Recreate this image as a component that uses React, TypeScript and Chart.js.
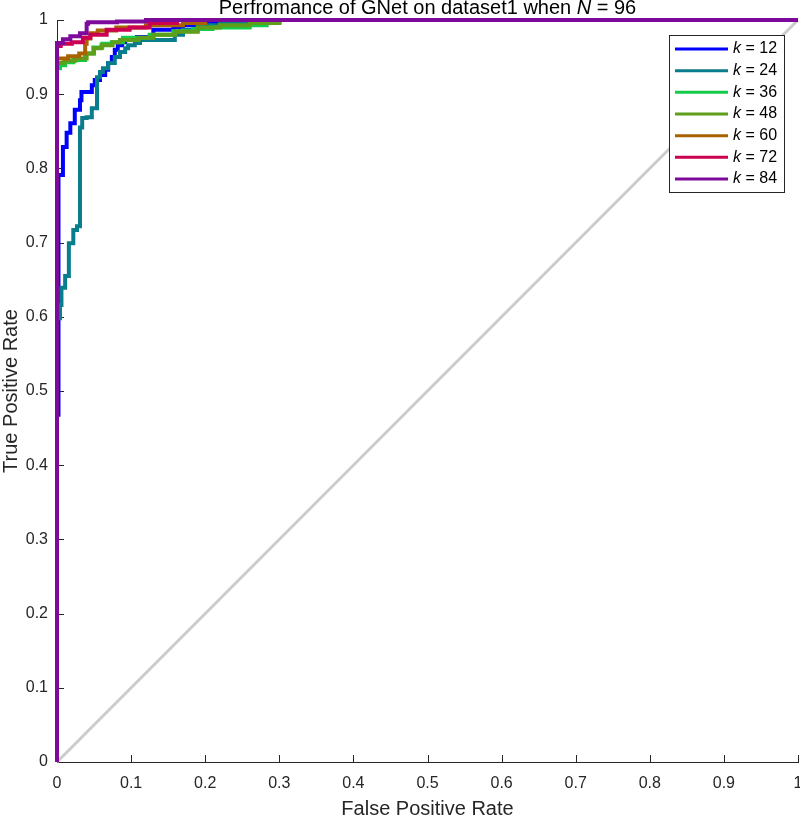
import React, { useEffect, useRef } from 'react';
import { Chart, registerables } from 'chart.js';

Chart.register(...registerables);

const FONT = '"Liberation Sans", Arial, Helvetica, sans-serif';
const INK = '#262626';

// ---- data ----
const seriesLabels = ['12', '24', '36', '48', '60', '72', '84'];
const seriesColors = ['#0000ff', '#0a7d8c', '#14cc4a', '#5e9e1a', '#a86200', '#cc0050', '#7d0a9a'];

const fpr12 = [0, 0, 0.002, 0.008, 0.013, 0.018, 0.024, 0.031, 0.033, 0.047, 0.051, 0.058, 0.065, 0.069, 0.074, 0.078, 0.082, 0.088, 0.092, 0.108, 0.13, 0.157, 0.17, 0.2, 0.25, 0.3, 0.524, 1];
const tpr12 = [0, 0.42, 0.468, 0.791, 0.829, 0.848, 0.861, 0.879, 0.892, 0.903, 0.912, 0.919, 0.926, 0.933, 0.942, 0.95, 0.96, 0.966, 0.97, 0.973, 0.977, 0.987, 0.99, 0.993, 0.995, 0.997, 1, 1];

const fpr24 = [0, 0, 0.004, 0.006, 0.011, 0.016, 0.022, 0.027, 0.031, 0.034, 0.04, 0.047, 0.054, 0.058, 0.062, 0.069, 0.078, 0.085, 0.092, 0.096, 0.105, 0.112, 0.159, 0.17, 0.19, 0.22, 0.26, 0.3, 1];
const tpr24 = [0, 0.5, 0.598, 0.616, 0.639, 0.655, 0.699, 0.717, 0.722, 0.855, 0.868, 0.869, 0.881, 0.923, 0.93, 0.935, 0.942, 0.95, 0.957, 0.962, 0.966, 0.969, 0.973, 0.98, 0.987, 0.993, 0.997, 1, 1];

const fpr36 = [0, 0, 0.004, 0.011, 0.022, 0.038, 0.049, 0.061, 0.074, 0.089, 0.125, 0.157, 0.184, 0.21, 0.26, 0.283, 0.3, 0.405, 1];
const tpr36 = [0, 0.929, 0.935, 0.939, 0.943, 0.946, 0.955, 0.963, 0.968, 0.97, 0.976, 0.98, 0.985, 0.988, 0.99, 0.993, 0.997, 1, 1];

const fpr48 = [0, 0, 0.01, 0.025, 0.04, 0.05, 0.06, 0.075, 0.085, 0.11, 0.13, 0.16, 0.19, 0.22, 0.26, 0.3, 0.33, 1];
const tpr48 = [0, 0.938, 0.942, 0.945, 0.948, 0.955, 0.962, 0.966, 0.97, 0.973, 0.976, 0.98, 0.984, 0.99, 0.993, 0.996, 1, 1];

const fpr60 = [0, 0, 0.015, 0.03, 0.038, 0.04, 0.045, 0.055, 0.08, 0.12, 0.17, 0.2, 0.23, 1];
const tpr60 = [0, 0.946, 0.948, 0.951, 0.955, 0.968, 0.975, 0.982, 0.986, 0.99, 0.993, 0.996, 1, 1];

const fpr72 = [0, 0, 0.005, 0.02, 0.035, 0.045, 0.067, 0.098, 0.125, 0.162, 0.2, 1];
const tpr72 = [0, 0.962, 0.965, 0.968, 0.97, 0.976, 0.98, 0.987, 0.99, 0.996, 1, 1];

const fpr84 = [0, 0, 0.008, 0.018, 0.031, 0.04, 0.042, 0.081, 0.12, 0.16, 1];
const tpr84 = [0, 0.957, 0.969, 0.974, 0.978, 0.982, 0.995, 0.997, 0.998, 1, 1];

const chanceX = [0, 1];
const chanceY = [0, 1];

const xTickValues = [0, 0.1, 0.2, 0.3, 0.4, 0.5, 0.6, 0.7, 0.8, 0.9, 1];
const yTickValues = [0, 0.1, 0.2, 0.3, 0.4, 0.5, 0.6, 0.7, 0.8, 0.9, 1];

const seriesX = [fpr12, fpr24, fpr36, fpr48, fpr60, fpr72, fpr84];
const seriesY = [tpr12, tpr24, tpr36, tpr48, tpr60, tpr72, tpr84];

const titleParts = [
  { text: 'Perfromance of GNet on dataset1 when ', italic: false },
  { text: 'N', italic: true },
  { text: ' = 96', italic: false },
];
const xTitle = 'False Positive Rate';
const yTitle = 'True Positive Rate';

const fmt = (v: number | string) => {
  const n = Number(v);
  return n.toFixed(1).replace(/\.0$/, '');
};

const decorPlugin = {
  id: 'decor',
  beforeDatasetsDraw(chart: any) {
    const { ctx, chartArea, scales } = chart;
    ctx.save();
    ctx.strokeStyle = INK;
    ctx.lineWidth = 1;
    ctx.beginPath();
    xTickValues.forEach((v) => {
      const px = Math.round(scales.x.getPixelForValue(v)) + 0.5;
      ctx.moveTo(px, chartArea.bottom);
      ctx.lineTo(px, chartArea.bottom - 7);
    });
    yTickValues.forEach((v) => {
      const py = Math.round(scales.y.getPixelForValue(v)) + 0.5;
      ctx.moveTo(chartArea.left, py);
      ctx.lineTo(chartArea.left + 7, py);
    });
    ctx.stroke();
    ctx.restore();
  },
  afterDatasetsDraw(chart: any) {
    const { ctx, chartArea } = chart;
    ctx.save();
    // legend
    const bx = chartArea.right - 129;
    const by = chartArea.top + 15;
    const bw = 115;
    const bh = 157;
    ctx.fillStyle = '#ffffff';
    ctx.fillRect(bx, by, bw, bh);
    ctx.strokeStyle = INK;
    ctx.lineWidth = 1;
    ctx.strokeRect(bx + 0.5, by + 0.5, bw, bh);
    ctx.textBaseline = 'middle';
    seriesLabels.forEach((lab, i) => {
      const y = by + 14 + i * 21.67;
      ctx.strokeStyle = seriesColors[i];
      ctx.lineWidth = 3;
      ctx.beginPath();
      ctx.moveTo(bx + 6, y);
      ctx.lineTo(bx + 59, y);
      ctx.stroke();
      ctx.fillStyle = '#000000';
      ctx.font = `italic 16px ${FONT}`;
      const tx = bx + 64;
      ctx.fillText('k', tx, y);
      const kw = ctx.measureText('k').width;
      ctx.font = `16px ${FONT}`;
      ctx.fillText(' = ' + lab, tx + kw, y);
    });
    // title
    ctx.fillStyle = '#000000';
    ctx.textBaseline = 'alphabetic';
    ctx.textAlign = 'left';
    let total = 0;
    const widths = titleParts.map((p) => {
      ctx.font = `${p.italic ? 'italic ' : ''}20px ${FONT}`;
      const w = ctx.measureText(p.text).width;
      total += w;
      return w;
    });
    let cx = (chartArea.left + chartArea.right) / 2 - total / 2;
    titleParts.forEach((p, i) => {
      ctx.font = `${p.italic ? 'italic ' : ''}20px ${FONT}`;
      ctx.fillText(p.text, cx, 14);
      cx += widths[i];
    });
    // axis titles
    ctx.fillStyle = INK;
    ctx.font = `20px ${FONT}`;
    ctx.textAlign = 'center';
    ctx.fillText(xTitle, (chartArea.left + chartArea.right) / 2, 815);
    ctx.translate(17, (chartArea.top + chartArea.bottom) / 2);
    ctx.rotate(-Math.PI / 2);
    ctx.fillText(yTitle, 0, 0);
    ctx.restore();
  },
};

export default function App() {
  const ref = useRef<HTMLCanvasElement>(null);
  useEffect(() => {
    document.body.style.margin = '0';
    const datasets: any[] = seriesLabels.map((lab, i) => ({
      label: 'k = ' + lab,
      data: seriesX[i].map((x, j) => ({ x, y: seriesY[i][j] })),
      borderColor: seriesColors[i],
      backgroundColor: seriesColors[i],
      borderWidth: 4,
      pointRadius: 0,
      stepped: 'after',
      tension: 0,
      fill: false,
      clip: false,
      order: seriesLabels.length - 1 - i,
    }));
    datasets.push({
      label: 'chance',
      data: chanceX.map((x, j) => ({ x, y: chanceY[j] })),
      borderColor: '#cccccc',
      borderWidth: 3,
      pointRadius: 0,
      tension: 0,
      fill: false,
      clip: false,
      order: 10,
    });
    const chart = new Chart(ref.current as HTMLCanvasElement, {
      type: 'line',
      data: { datasets },
      options: {
        animation: false,
        responsive: false,
        devicePixelRatio: 1,
        layout: { padding: { top: 20, right: 2, left: 0, bottom: 0 } },
        plugins: {
          legend: { display: false },
          title: { display: false },
          tooltip: { enabled: false },
        },
        scales: {
          x: {
            type: 'linear',
            min: 0,
            max: 1,
            afterFit: (s: any) => {
              s.height = 54;
              s.paddingLeft = 0;
              s.paddingRight = 0;
            },
            grid: { display: false, drawTicks: false },
            border: { display: true, color: INK, width: 1 },
            ticks: {
              stepSize: 0.1,
              padding: 12,
              color: INK,
              font: { family: FONT, size: 16 },
              maxRotation: 0,
              autoSkip: false,
              callback: (v: any) => fmt(v),
            },
          },
          y: {
            type: 'linear',
            min: 0,
            max: 1,
            afterFit: (s: any) => {
              s.width = 57;
              s.paddingTop = 0;
              s.paddingBottom = 0;
            },
            grid: { display: false, drawTicks: false },
            border: { display: true, color: INK, width: 1 },
            ticks: {
              stepSize: 0.1,
              padding: 9,
              color: INK,
              font: { family: FONT, size: 16 },
              autoSkip: false,
              callback: (v: any) => fmt(v),
            },
          },
        },
      } as any,
      plugins: [decorPlugin],
    });
    return () => chart.destroy();
  }, []);
  return (
    <div style={{ width: 800, height: 816 }}>
      <canvas ref={ref} width={800} height={816} style={{ display: 'block' }} />
    </div>
  );
}
